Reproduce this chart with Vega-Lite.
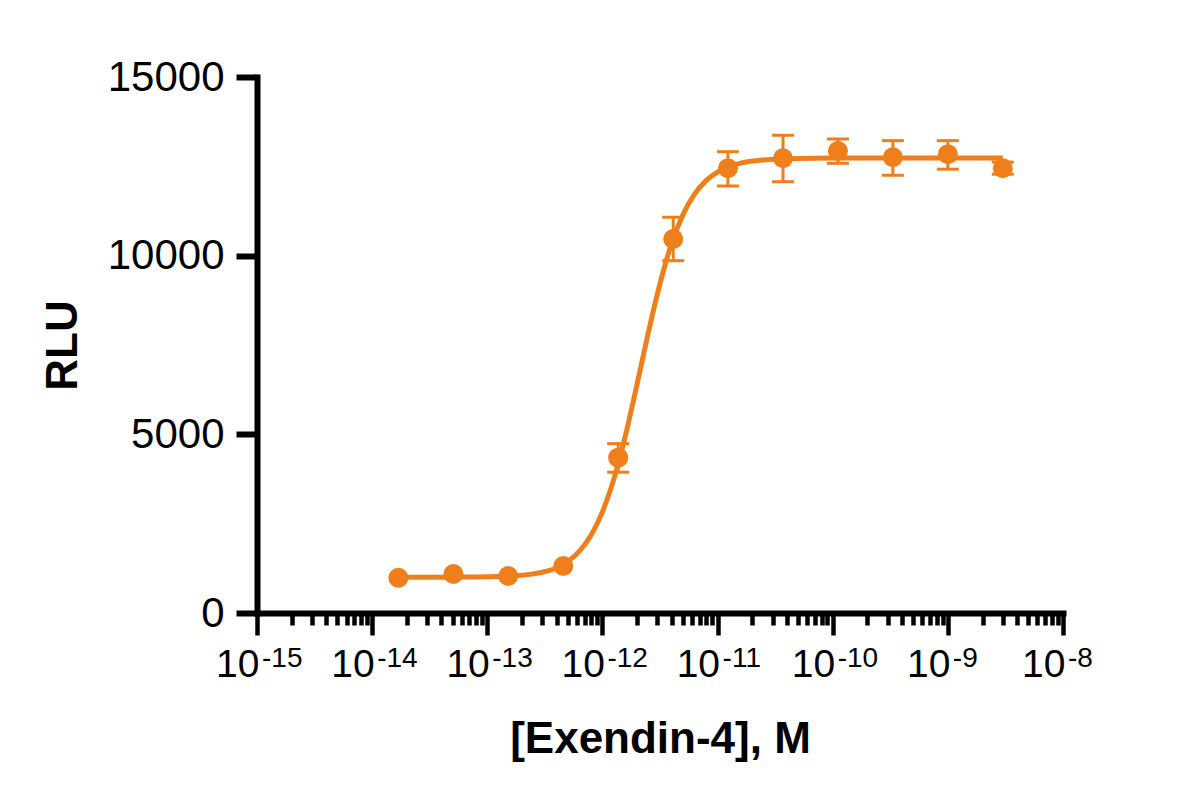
{
  "$schema": "https://vega.github.io/schema/vega-lite/v6.json",
  "autosize": {"type": "none"},
  "padding": {"left": 257, "top": 77, "right": 137, "bottom": 187},
  "width": 806,
  "height": 536,
  "background": "white",
  "config": {
    "font": "Liberation Sans",
    "view": {"stroke": null}
  },
  "datasets": {
    "points": [
      {"conc": 1.69e-14, "rlu": 985, "lo": null, "hi": null},
      {"conc": 5.08e-14, "rlu": 1090, "lo": null, "hi": null},
      {"conc": 1.52e-13, "rlu": 1035, "lo": null, "hi": null},
      {"conc": 4.57e-13, "rlu": 1315, "lo": null, "hi": null},
      {"conc": 1.37e-12, "rlu": 4347, "lo": 3940, "hi": 4740},
      {"conc": 4.12e-12, "rlu": 10467, "lo": 9860, "hi": 11075},
      {"conc": 1.23e-11, "rlu": 12445, "lo": 11950, "hi": 12910},
      {"conc": 3.7e-11, "rlu": 12725, "lo": 12070, "hi": 13370},
      {"conc": 1.11e-10, "rlu": 12930, "lo": 12585, "hi": 13265},
      {"conc": 3.33e-10, "rlu": 12755, "lo": 12250, "hi": 13220},
      {"conc": 1e-9, "rlu": 12840, "lo": 12420, "hi": 13220},
      {"conc": 3e-9, "rlu": 12445, "lo": 12280, "hi": 12620}
    ],
    "curve": [
      {"conc": 1.69e-14, "rlu": 1000},
      {"conc": 3.16e-14, "rlu": 1001},
      {"conc": 6.31e-14, "rlu": 1005},
      {"conc": 1e-13, "rlu": 1014},
      {"conc": 1.585e-13, "rlu": 1036},
      {"conc": 2.512e-13, "rlu": 1095},
      {"conc": 3.981e-13, "rlu": 1260},
      {"conc": 5.012e-13, "rlu": 1440},
      {"conc": 6.31e-13, "rlu": 1730},
      {"conc": 7.943e-13, "rlu": 2170},
      {"conc": 1e-12, "rlu": 2830},
      {"conc": 1.259e-12, "rlu": 3760},
      {"conc": 1.585e-12, "rlu": 4970},
      {"conc": 1.995e-12, "rlu": 6390},
      {"conc": 2.512e-12, "rlu": 7870},
      {"conc": 3.162e-12, "rlu": 9220},
      {"conc": 3.981e-12, "rlu": 10330},
      {"conc": 5.012e-12, "rlu": 11150},
      {"conc": 6.31e-12, "rlu": 11720},
      {"conc": 7.943e-12, "rlu": 12100},
      {"conc": 1e-11, "rlu": 12340},
      {"conc": 1.585e-11, "rlu": 12590},
      {"conc": 2.512e-11, "rlu": 12680},
      {"conc": 5.012e-11, "rlu": 12720},
      {"conc": 1e-10, "rlu": 12730},
      {"conc": 3.162e-10, "rlu": 12730},
      {"conc": 1e-9, "rlu": 12730},
      {"conc": 3e-9, "rlu": 12730}
    ],
    "decades": [
      {"conc": 1e-15, "exp": "-15"},
      {"conc": 1e-14, "exp": "-14"},
      {"conc": 1e-13, "exp": "-13"},
      {"conc": 1e-12, "exp": "-12"},
      {"conc": 1e-11, "exp": "-11"},
      {"conc": 1e-10, "exp": "-10"},
      {"conc": 1e-9, "exp": "-9"},
      {"conc": 1e-8, "exp": "-8"}
    ]
  },
  "layer": [
    {
      "data": {"name": "points"},
      "transform": [{"filter": "isValid(datum.lo)"}],
      "mark": {"type": "rule", "color": "#EF7F1A", "strokeWidth": 3},
      "encoding": {
        "x": {
          "field": "conc",
          "type": "quantitative",
          "scale": {"type": "log", "domain": [1e-15, 1e-8], "nice": false},
          "axis": {
            "title": "[Exendin-4], M",
            "titleFontSize": 44,
            "titleFontWeight": "bold",
            "titleColor": "black",
            "titlePadding": 33,
            "values": [
              1e-15, 2e-15, 3e-15, 4e-15, 5e-15, 6e-15, 7e-15, 8e-15, 9e-15,
              1e-14, 2e-14, 3e-14, 4e-14, 5e-14, 6e-14, 7e-14, 8e-14, 9e-14,
              1e-13, 2e-13, 3e-13, 4e-13, 5e-13, 6e-13, 7e-13, 8e-13, 9e-13,
              1e-12, 2e-12, 3e-12, 4e-12, 5e-12, 6e-12, 7e-12, 8e-12, 9e-12,
              1e-11, 2e-11, 3e-11, 4e-11, 5e-11, 6e-11, 7e-11, 8e-11, 9e-11,
              1e-10, 2e-10, 3e-10, 4e-10, 5e-10, 6e-10, 7e-10, 8e-10, 9e-10,
              1e-9, 2e-9, 3e-9, 4e-9, 5e-9, 6e-9, 7e-9, 8e-9, 9e-9,
              1e-8
            ],
            "labelExpr": "abs(log(datum.value)/LN10 - round(log(datum.value)/LN10)) < 0.001 ? '10' : ''",
            "labelAlign": "right",
            "labelOffset": 2,
            "labelFontSize": 39,
            "labelColor": "black",
            "labelPadding": 10,
            "labelOverlap": false,
            "labelBound": false,
            "labelFlush": false,
            "domainColor": "black",
            "domainWidth": 6,
            "domainCap": "square",
            "tickColor": "black",
            "tickWidth": 4.5,
            "tickSize": {
              "condition": {"test": "abs(log(datum.value)/LN10 - round(log(datum.value)/LN10)) < 0.001", "value": 22},
              "value": 12
            },
            "grid": false
          }
        },
        "y": {
          "field": "lo",
          "type": "quantitative",
          "scale": {"domain": [0, 15000], "nice": false},
          "axis": {
            "title": "RLU",
            "titleFontSize": 44,
            "titleFontWeight": "bold",
            "titleColor": "black",
            "titlePadding": 22,
            "values": [0, 5000, 10000, 15000],
            "format": "d",
            "labelFontSize": 42,
            "labelColor": "black",
            "labelPadding": 12,
            "labelBound": false,
            "labelFlush": false,
            "domainColor": "black",
            "domainWidth": 6,
            "domainCap": "square",
            "tickColor": "black",
            "tickWidth": 6,
            "tickSize": 21,
            "grid": false
          }
        },
        "y2": {"field": "hi"}
      }
    },
    {
      "data": {"name": "points"},
      "transform": [{"filter": "isValid(datum.lo)"}],
      "mark": {"type": "tick", "orient": "horizontal", "color": "#EF7F1A", "size": 22, "thickness": 3, "opacity": 1},
      "encoding": {
        "x": {"field": "conc", "type": "quantitative"},
        "y": {"field": "lo", "type": "quantitative"}
      }
    },
    {
      "data": {"name": "points"},
      "transform": [{"filter": "isValid(datum.hi)"}],
      "mark": {"type": "tick", "orient": "horizontal", "color": "#EF7F1A", "size": 22, "thickness": 3, "opacity": 1},
      "encoding": {
        "x": {"field": "conc", "type": "quantitative"},
        "y": {"field": "hi", "type": "quantitative"}
      }
    },
    {
      "data": {"name": "curve"},
      "mark": {"type": "line", "color": "#EF7F1A", "strokeWidth": 5, "interpolate": "monotone"},
      "encoding": {
        "x": {"field": "conc", "type": "quantitative"},
        "y": {"field": "rlu", "type": "quantitative"}
      }
    },
    {
      "data": {"name": "points"},
      "mark": {"type": "circle", "color": "#EF7F1A", "size": 400, "opacity": 1},
      "encoding": {
        "x": {"field": "conc", "type": "quantitative"},
        "y": {"field": "rlu", "type": "quantitative"}
      }
    },
    {
      "data": {"name": "decades"},
      "mark": {"type": "text", "align": "left", "baseline": "top", "fontSize": 28, "color": "black", "dx": 5, "dy": 32},
      "encoding": {
        "x": {"field": "conc", "type": "quantitative"},
        "y": {"datum": 0, "type": "quantitative"},
        "text": {"field": "exp"}
      }
    }
  ]
}
